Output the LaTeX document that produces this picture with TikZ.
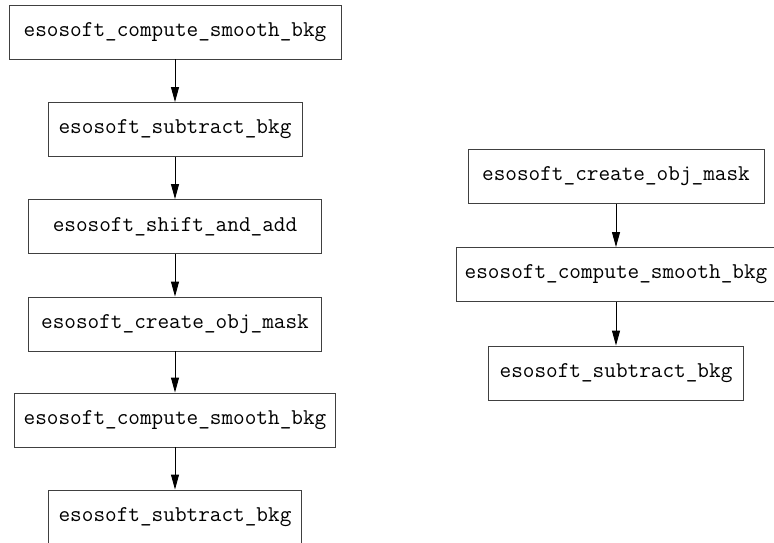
\documentclass[tikz,border=0pt]{standalone}
\usepackage{fontspec}
\usetikzlibrary{arrows.meta}
\tikzset{
every picture/.style={
line width=0.9pt
}}

\begin{document}
\begin{tikzpicture}[x=1pt, y=-1pt,
block/.style = {rectangle, draw=black!75, minimum height=54pt, inner sep=0pt,
  font=\ttfamily\fontsize{22.6}{25}\selectfont},
flow/.style = {black, -{Triangle[length=15pt, width=8pt]}}]

\useasboundingbox (0,0) rectangle (774,543);

% recipe chain, left column
\node [block, minimum width=332pt] (lsmooth) at (175,32) {esosoft\_compute\_smooth\_bkg};
\node [block, minimum width=254pt] (lsub) at (175,129.5) {esosoft\_subtract\_bkg};
\node [block, minimum width=293pt] (lshift) at (175,226.5) {esosoft\_shift\_and\_add};
\node [block, minimum width=293pt] (lmask) at (175,324) {esosoft\_create\_obj\_mask};
\node [block, minimum width=321pt] (lsmooth2) at (175,420) {esosoft\_compute\_smooth\_bkg};
\node [block, minimum width=253pt] (lsub2) at (175,517) {esosoft\_subtract\_bkg};

% right column
\node [block, minimum width=296pt] (rmask) at (616,176.5) {esosoft\_create\_obj\_mask};
\node [block, minimum width=320pt] (rsmooth) at (616,274.5) {esosoft\_compute\_smooth\_bkg};
\node [block, minimum width=255pt] (rsub) at (616,373) {esosoft\_subtract\_bkg};

\draw [flow] (lsmooth) -- (lsub);
\draw [flow] (lsub) -- (lshift);
\draw [flow] (lshift) -- (lmask);
\draw [flow] (lmask) -- (lsmooth2);
\draw [flow] (lsmooth2) -- (lsub2);

\draw [flow] (rmask) -- (rsmooth);
\draw [flow] (rsmooth) -- (rsub);

\end{tikzpicture}
\end{document}
